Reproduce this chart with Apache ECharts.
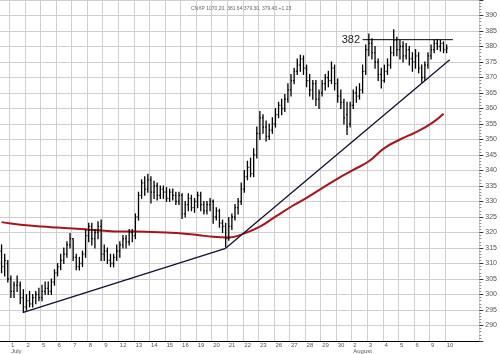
<!DOCTYPE html>
<html>
<head>
<meta charset="UTF-8">
<title>CNXP</title>
<script src="https://cdn.jsdelivr.net/npm/echarts@6/dist/echarts.min.js"></script>
<style>
  html, body { margin: 0; padding: 0; background: #fff; }
  #main { width: 500px; height: 354px; }
</style>
</head>
<body>
<div id="main"></div>
<script>
// trading days on the x axis (Jun 30 only shows its last 3 bars)
var days = ['Jun 30', 'Jul 1', 'Jul 2', 'Jul 5', 'Jul 6', 'Jul 7', 'Jul 8', 'Jul 9',
  'Jul 12', 'Jul 13', 'Jul 14', 'Jul 15', 'Jul 16', 'Jul 19', 'Jul 20', 'Jul 21',
  'Jul 22', 'Jul 23', 'Jul 26', 'Jul 27', 'Jul 28', 'Jul 29', 'Jul 30',
  'Aug 2', 'Aug 3', 'Aug 4', 'Aug 5', 'Aug 6', 'Aug 9', 'Aug 10'];
var monthNames = { Jul: 'July', Aug: 'August' };
var barsPerDay = 5;
var firstDayBars = 3;
var emptySlotsAtEnd = 6;

// intraday bars: [open, close, low, high]
var ohlc = [
  // Jun 30
  [314, 309, 307, 316], [309, 311, 306, 313], [310, 305, 304, 311],
  // Jul 1
  [305, 301, 299, 306], [301, 303, 299, 304], [303, 304, 301, 306], [303, 299, 297, 304], [299, 296, 294.2, 301.5],
  // Jul 2
  [296, 298, 295, 300], [298, 297, 296, 301], [297, 299, 296, 300], [299, 300, 297, 301], [300, 299, 298, 302],
  // Jul 5
  [299, 301, 298, 303], [301, 302, 300, 304], [302, 301, 300, 304], [301, 304, 300, 305], [304, 307, 303, 308],
  // Jul 6
  [307, 309, 306, 310], [309, 311, 308, 313], [311, 313, 310, 315], [313, 316, 312, 317], [316, 318, 315, 319.7],
  // Jul 7
  [318, 312, 311, 318], [312, 309, 308, 313], [309, 310, 307.9, 312], [310, 313, 309, 314], [313, 319, 312, 321],
  // Jul 8
  [319, 322, 317, 323], [322, 318, 316, 323], [318, 320, 315, 321], [320, 322, 318, 323.5], [322, 313, 311, 324],
  // Jul 9
  [313, 314, 311, 316], [314, 311, 310, 315], [311, 310, 309, 313], [310, 312, 308.9, 313], [312, 314, 311, 316],
  // Jul 12
  [314, 316, 312, 317], [316, 318, 315, 319], [318, 317, 315, 319], [317, 320, 316, 321], [320, 319, 317, 321],
  // Jul 13
  [319, 325, 318, 326], [325, 332, 324, 333], [332, 336, 331, 337], [336, 334, 332, 338], [334, 337, 333, 338.8],
  // Jul 14
  [337, 333, 329.5, 338], [333, 335, 331, 336.5], [335, 332, 330.5, 336], [332, 334, 331, 335], [334, 333, 331, 335],
  // Jul 15
  [333, 331, 330, 334.5], [331, 333, 330, 334], [333, 332, 330.5, 334], [332, 330, 329, 333], [330, 332, 329, 333],
  // Jul 16
  [332, 326, 324.5, 332.5], [326, 329, 325, 330], [329, 331, 327, 332.5], [331, 328, 327, 332], [328, 330, 326.5, 331],
  // Jul 19
  [330, 332, 328, 333], [332, 329, 327, 333], [329, 327, 326, 330], [327, 329, 326, 330], [329, 330, 327, 331],
  // Jul 20
  [330, 325, 323, 330.5], [325, 327, 324, 328], [327, 323, 321.7, 327.5], [323, 322, 320, 324], [322, 318, 315.3, 323],
  // Jul 21
  [318, 322, 317.5, 324.8], [322, 325, 321, 326], [325, 328, 324, 329], [328, 330, 326, 331], [330, 334, 329, 336],
  // Jul 22
  [334, 338, 333, 340], [338, 341, 337, 343], [341, 339, 338, 344], [339, 345, 338, 347], [345, 352, 344, 354],
  // Jul 23
  [352, 357, 350, 359], [357, 354, 352, 358], [354, 351, 349.5, 356], [351, 353, 350, 355], [353, 355, 352, 357],
  // Jul 26
  [355, 358, 354, 360], [358, 361, 357, 362], [361, 360, 358, 363], [360, 363, 359, 364.5], [363, 366, 362, 368],
  // Jul 27
  [366, 369, 364, 371], [369, 372, 368, 373], [372, 374, 371, 376], [374, 376, 372, 377.2], [376, 373, 371, 377],
  // Jul 28
  [373, 369, 367, 374], [369, 366, 364, 371], [366, 368, 363, 369], [368, 363, 361, 369], [363, 365, 360, 366],
  // Jul 29
  [365, 368, 364, 369], [368, 370, 366, 371], [370, 369, 367, 372], [369, 373, 368, 375], [373, 368, 366, 374],
  // Jul 30
  [368, 364, 362, 369.5], [364, 362, 360, 366], [362, 357, 355, 363], [358, 354, 351.6, 362], [355, 361, 354, 362],
  // Aug 2
  [361, 365, 360, 366], [365, 364, 362, 367], [364, 366, 363, 368], [366, 372, 365, 374], [372, 379, 371, 380.5],
  // Aug 3
  [379, 381, 377, 384], [381, 378, 376, 382.5], [378, 375, 373, 380], [375, 371, 369, 376], [371, 369, 366.6, 373],
  // Aug 4
  [369, 372, 368.5, 374], [372, 374, 371, 376], [374, 378, 373, 380], [378, 382, 377, 385.4], [382, 379, 377, 383],
  // Aug 5
  [379, 380, 376, 382], [380, 377, 375, 381.5], [377, 379, 376, 381], [379, 376, 374, 380], [376, 375, 372, 378],
  // Aug 6
  [375, 377, 373, 379], [377, 373, 371.5, 378], [373, 370, 368.5, 374], [370, 374, 369, 375], [374, 377, 373, 378],
  // Aug 9
  [377, 379, 376, 380.5], [379, 381, 378, 382], [381, 380, 379, 382.2], [380, 381, 378.5, 382], [381, 379, 378, 381.5],
  // Aug 10
  [379, 379.5, 378, 380.5]
];

// long moving average, read at each day start: [bar index, value]
var maPoints = [
  [0, 323.35], [3, 322.9], [8, 322.3], [13, 321.9], [18, 321.6], [23, 321.3], [28, 320.9],
  [33, 320.6], [38, 320.3], [43, 320.3], [48, 320.2], [53, 320.0], [58, 319.7], [63, 319.2],
  [68, 318.6], [73, 318.4], [78, 319.7], [83, 321.9], [88, 325.1], [93, 328.3], [98, 331.2],
  [103, 334.3], [108, 337.4], [113, 340.2], [118, 343.0], [123, 347.2], [128, 350.0],
  [133, 352.3], [138, 355.1], [142, 358.3]
];

// drawn trendlines and resistance: [bar index, value]
var trendLow = [[7, 294.2], [72, 314.9]];
var trendUp = [[72, 314.9], [144, 375.7]];
var resistance = [[116, 382.2], [145, 382.2]];
var resistanceLabel = '382';

var yMin = 285, yMax = 395, yStep = 5;
var titleText = 'CNXP 1070,20, 381.64 379.30, 379.43 +1.23';

// category slots: one per bar
var slots = [];
days.forEach(function (d, di) {
  var n = di === 0 ? firstDayBars : barsPerDay;
  for (var k = 0; k < n; k++) slots.push(d + '#' + (di === 0 ? k + barsPerDay - n : k));
});
for (var e = 0; e < emptySlotsAtEnd; e++) slots.push('');

function isDayStart(idx, val) {
  return !!val && /#0$/.test(val) && val.indexOf('Jun') !== 0;
}

var barData = ohlc.map(function (d, i) { return [i, d[0], d[1], d[2], d[3]]; });

function renderBar(params, api) {
  var i = api.value(0);
  var o = api.coord([i, api.value(1)]);
  var c = api.coord([i, api.value(2)]);
  var lo = api.coord([i, api.value(3)]);
  var hi = api.coord([i, api.value(4)]);
  var x = o[0];
  var st = { stroke: '#000', lineWidth: 1.3 };
  return {
    type: 'group',
    children: [
      { type: 'line', shape: { x1: x, y1: lo[1] + 0.5, x2: x, y2: hi[1] - 0.5 }, style: st },
      { type: 'line', shape: { x1: x - 1, y1: o[1], x2: x, y2: o[1] }, style: st },
      { type: 'line', shape: { x1: x, y1: c[1], x2: x + 1, y2: c[1] }, style: st }
    ]
  };
}

var myChart = echarts.init(document.getElementById('main'));
var option = {
  animation: false,
  backgroundColor: '#fff',
  textStyle: { fontFamily: 'Liberation Sans, Arial, sans-serif' },
  title: {
    text: titleText,
    left: 186, top: 1,
    textStyle: { fontSize: 5, fontWeight: 'normal', color: '#666' }
  },
  grid: { left: 0, right: 20, top: -3, bottom: 12 },
  xAxis: {
    type: 'category',
    data: slots,
    boundaryGap: true,
    axisLine: { lineStyle: { color: '#000', width: 1 } },
    axisTick: { show: false },
    splitLine: { show: true, interval: isDayStart, lineStyle: { color: '#cfcfcf', width: 1 } },
    axisLabel: {
      interval: isDayStart,
      margin: 1,
      fontSize: 6,
      lineHeight: 6,
      color: '#555',
      align: 'left',
      formatter: function (val) {
        var p = val.split('#')[0].split(' ');
        var first = (p[0] === 'Jul' && p[1] === '1') || (p[0] === 'Aug' && p[1] === '2');
        return first ? p[1] + '\n' + monthNames[p[0]] : p[1];
      }
    }
  },
  yAxis: {
    type: 'value',
    position: 'right',
    min: yMin, max: yMax, interval: yStep,
    axisLine: { show: false },
    axisTick: { show: true, length: 4, lineStyle: { color: '#333' } },
    minorTick: { show: true, splitNumber: 5, length: 2, lineStyle: { color: '#888' } },
    splitLine: { lineStyle: { color: '#cfcfcf', width: 1 } },
    axisLabel: {
      fontSize: 7, color: '#555', margin: 6,
      showMinLabel: false, showMaxLabel: false
    }
  },
  series: [
    {
      name: 'MA',
      type: 'line',
      data: maPoints,
      smooth: true,
      symbol: 'none',
      lineStyle: { color: '#a8141c', width: 2 },
      z: 3
    },
    {
      name: 'price',
      type: 'custom',
      renderItem: renderBar,
      data: barData,
      encode: { x: 0, y: [1, 2, 3, 4] },
      z: 4
    },
    {
      name: 'trend low',
      type: 'line',
      data: trendLow,
      symbol: 'none',
      lineStyle: { color: '#101030', width: 1.3 },
      z: 5
    },
    {
      name: 'trend up',
      type: 'line',
      data: trendUp,
      symbol: 'none',
      lineStyle: { color: '#101030', width: 1.3 },
      z: 5
    },
    {
      name: 'resistance',
      type: 'line',
      data: [
        { value: resistance[0], label: { show: true, position: 'left', distance: 2, formatter: resistanceLabel, fontSize: 11, color: '#222' } },
        resistance[1]
      ],
      symbol: 'circle',
      symbolSize: 1,
      itemStyle: { color: 'rgba(0,0,0,0)' },
      lineStyle: { color: '#000', width: 1 },
      z: 5
    }
  ]
};
myChart.setOption(option);
</script>
</body>
</html>
